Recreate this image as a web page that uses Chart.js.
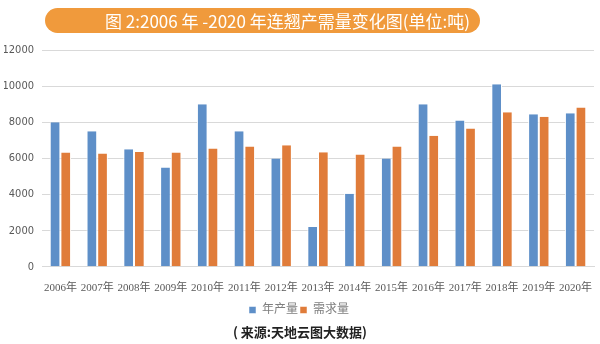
<!DOCTYPE html>
<html><head><meta charset="utf-8">
<script src="https://cdn.jsdelivr.net/npm/chart.js@4"></script>
<style>
html,body{margin:0;padding:0;background:#fff;}
#wrap{position:relative;width:600px;height:344px;}
#banner{position:absolute;left:45px;top:8px;width:435px;height:25px;background:#F09A3C;border-radius:13px;color:#fff;font-family:"Noto Sans CJK SC","Noto Sans",sans-serif;font-size:17px;line-height:25px;text-align:right;padding-right:10px;box-sizing:border-box;white-space:nowrap;}
#src{position:absolute;left:0;width:600px;top:322px;text-align:center;font-family:"Noto Sans CJK SC",sans-serif;font-size:13px;font-weight:bold;color:#222;}
canvas{position:absolute;left:0;top:0;}
</style></head>
<body><div id="wrap"><canvas id="c" width="600" height="344"></canvas>
<div id="banner">图 2:2006 年 -2020 年连翘产需量变化图(单位:吨)</div>
<div id="src">( 来源:天地云图大数据)</div></div>
<script>
const categories=["2006年","2007年","2008年","2009年","2010年","2011年","2012年","2013年","2014年","2015年","2016年","2017年","2018年","2019年","2020年"];
const production=[8000,7500,6500,5500,9000,7500,6000,2200,4050,6000,9000,8100,10100,8450,8500];
const demand=[6320,6270,6360,6320,6550,6660,6730,6340,6210,6660,7250,7660,8550,8300,8820];
const seriesNames=["年产量","需求量"];
const yTicks=[0,2000,4000,6000,8000,10000,12000];
new Chart(document.getElementById('c'),{
 type:'bar',
 data:{labels:categories,datasets:[
  {label:seriesNames[0],data:production,backgroundColor:'#5E8FC8',borderColor:'#fff',borderWidth:{left:1,right:1,top:0,bottom:0},borderSkipped:false},
  {label:seriesNames[1],data:demand,backgroundColor:'#E07C3A',borderColor:'#fff',borderWidth:{left:1,right:1,top:0,bottom:0},borderSkipped:false}
 ]},
 options:{responsive:false,animation:false,
  layout:{padding:{top:50,right:6,left:4,bottom:18}},
  datasets:{bar:{categoryPercentage:0.58,barPercentage:1}},
  plugins:{title:{display:false},tooltip:{enabled:false},
   legend:{position:'bottom',labels:{boxWidth:7,boxHeight:7,padding:2,color:'#7F7F7F',font:{family:'"Liberation Serif","Noto Sans CJK SC"',size:12}}}},
  scales:{
   x:{grid:{display:false},border:{color:'#D9D9D9'},ticks:{color:'#595959',font:{family:'"Liberation Serif","Noto Sans CJK SC"',size:11},maxRotation:0,autoSkip:false,padding:7}},
   y:{min:0,max:12000,afterFit:s=>{s.width=38;},afterBuildTicks:a=>{a.ticks=yTicks.map(v=>({value:v}));},grid:{color:'#D9D9D9',drawTicks:false},border:{display:false},ticks:{color:'#595959',padding:8,callback:v=>String(v),font:{family:'"DejaVu Sans Condensed","Liberation Sans"',size:11}}}
  }}
});
</script></body></html>
